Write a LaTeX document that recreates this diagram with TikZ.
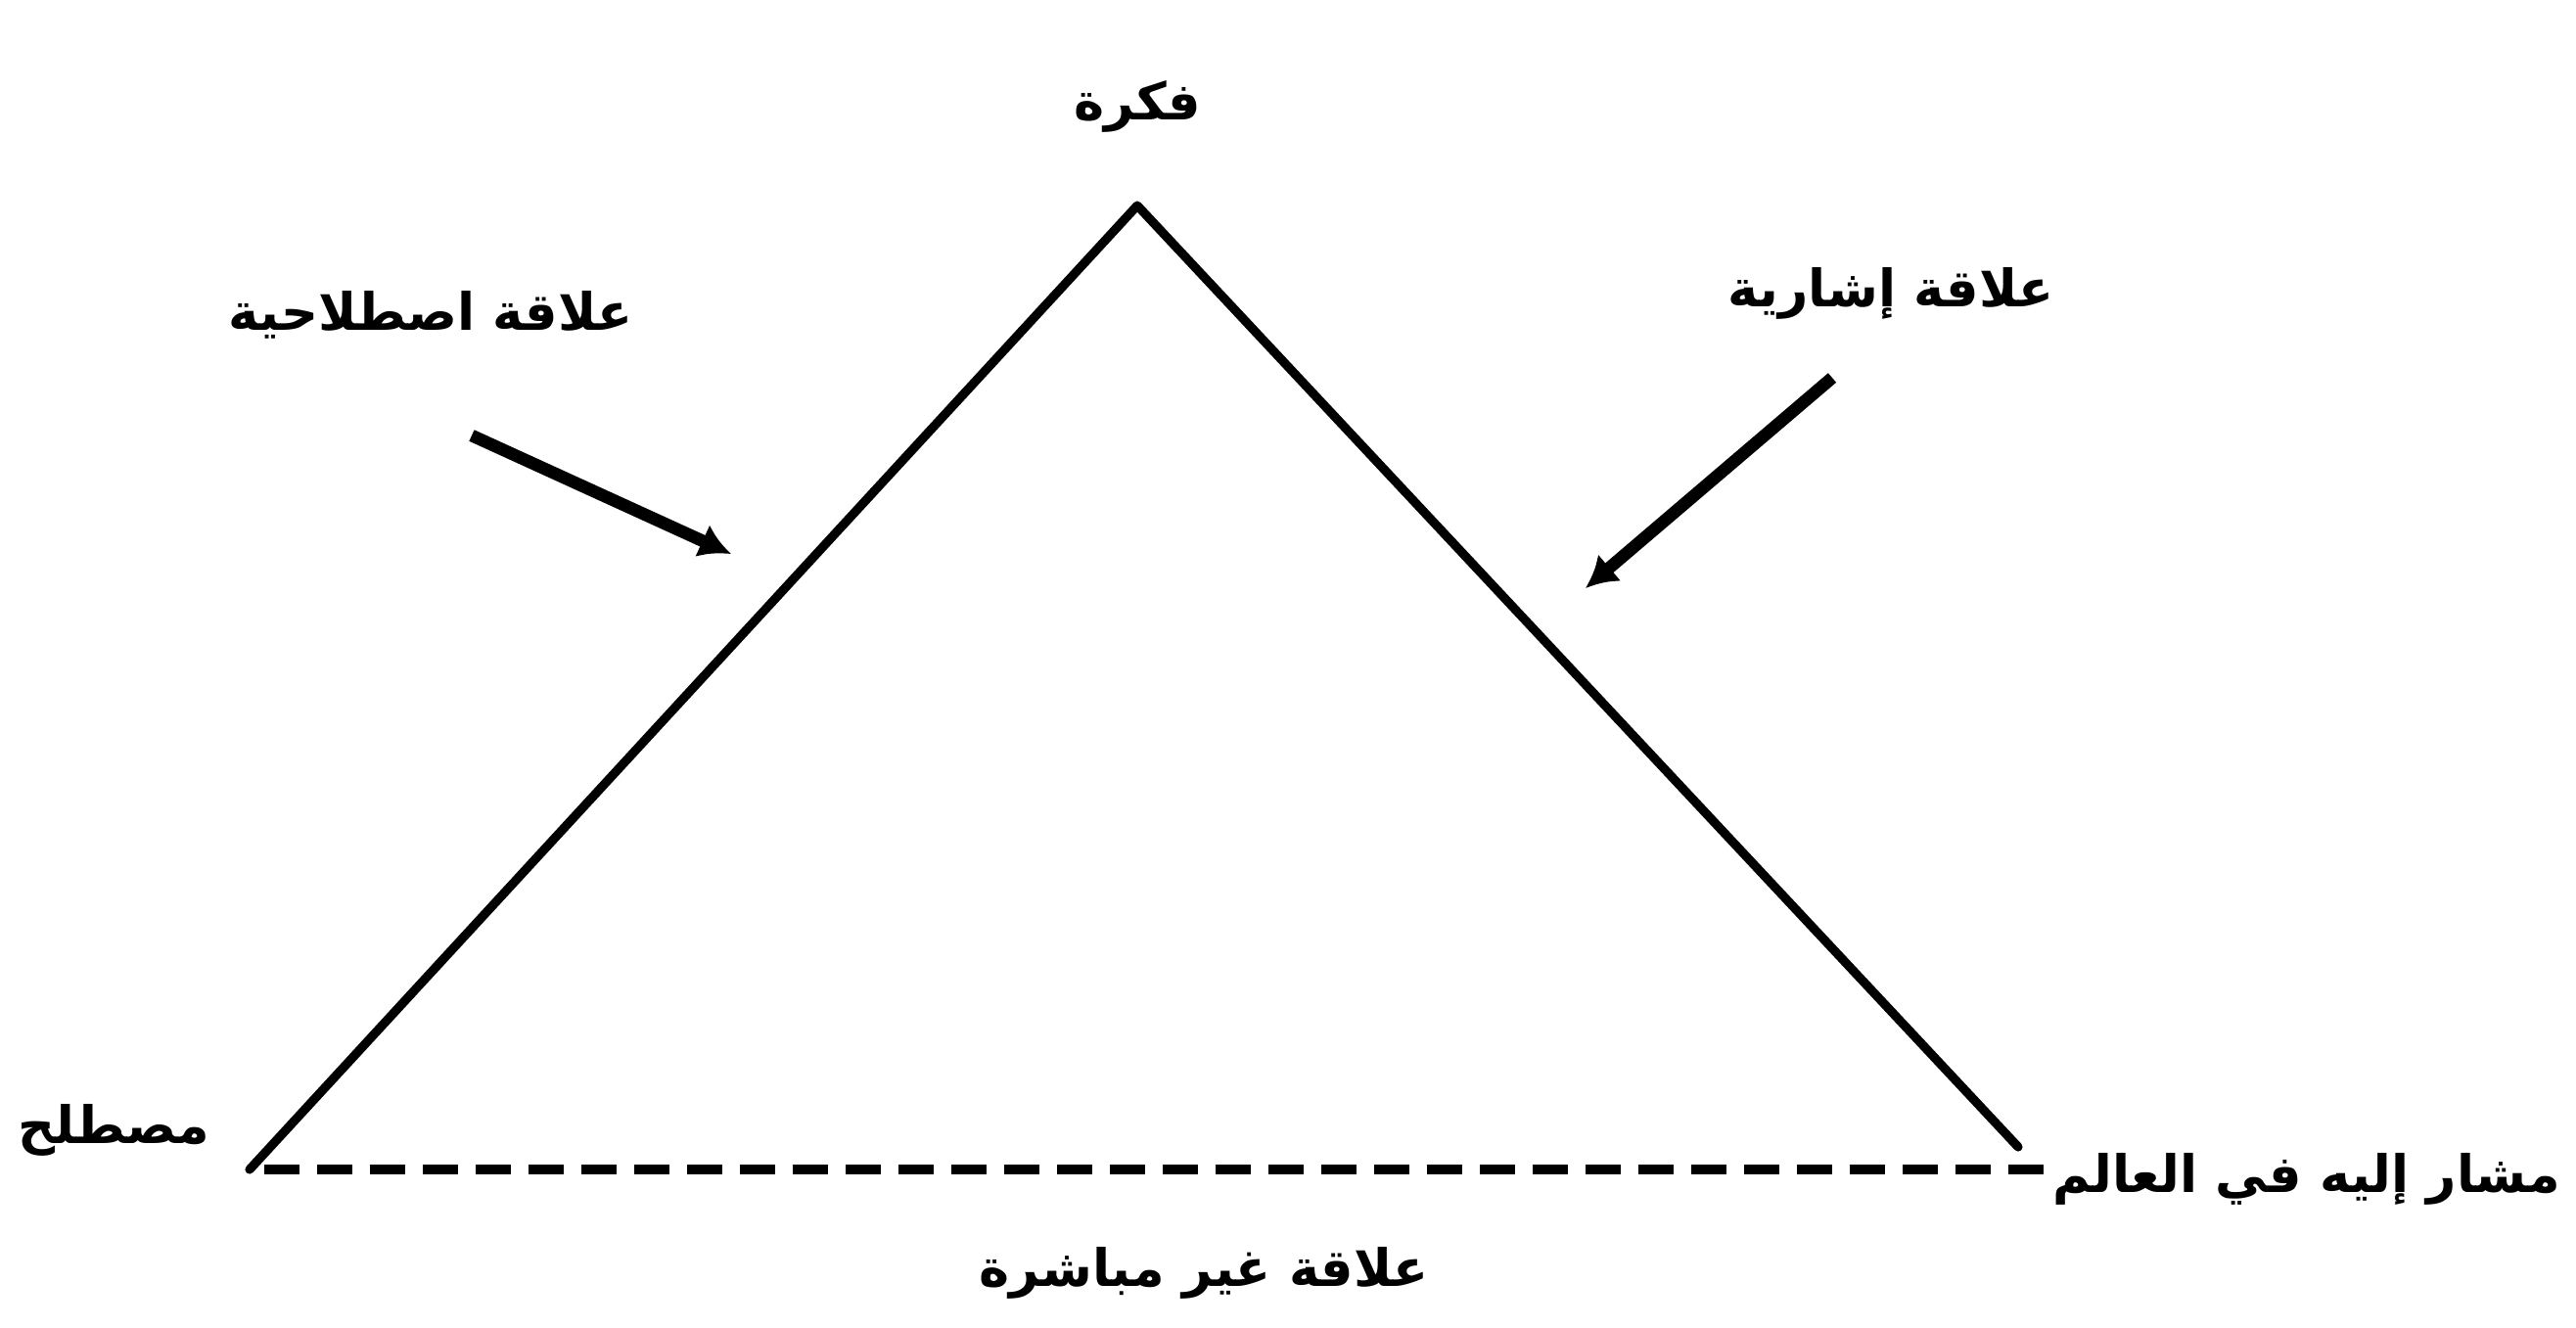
\documentclass[tikz,border=0pt]{standalone}
\usepackage{fontspec}
\usepackage{tikz}
\usetikzlibrary{arrows.meta,positioning}
\TeXXeTstate=1
\newfontfamily\arabicfont[Script=Arabic]{DejaVu Sans}
\definecolor{ink}{HTML}{000000}
\tikzset{
  lbl/.style={font=\arabicfont\bfseries\fontsize{15}{18}\selectfont,
              text=ink,inner sep=2pt},
  side/.style={draw=ink,line width=2.6pt,line cap=round,line join=round},
  base/.style={draw=ink,line width=2.8pt,dash pattern=on 0.36cm off 0.18cm},
  pointer/.style={-{Latex[length=3.2mm,width=3.6mm]},draw=ink,
                  line width=3.6pt}
}
\begin{document}
\begin{tikzpicture}[x=1cm,y=1cm]
    \path[use as bounding box,fill=white] (0,0) rectangle (26.32,-13.56);
    % corners of the triangle
    \coordinate (apex) at (11.62,-2.10);
    \coordinate (lcorner) at (2.55,-11.95);
    \coordinate (rcorner) at (20.62,-11.72);
    \coordinate (dashL) at (2.70,-11.95);
    \coordinate (dashR) at (20.98,-11.95);
    \draw[side] (lcorner) -- (apex) -- (rcorner);
    \draw[base] (dashL) -- (dashR);

    \node[lbl] (idea) at (11.62,-1.09) {\beginR فكرة\endR};
    \node[lbl,anchor=east] (term) at (2.22,-11.55) {\beginR مصطلح\endR};
    \node[lbl,anchor=east] (referent) at (26.24,-12.05) {\beginR مشار إليه في العالم\endR};
    \node[lbl] (indirect) at (12.30,-13.01) {\beginR علاقة غير مباشرة\endR};
    \node[lbl] (convrel) at (4.40,-3.22) {\beginR علاقة اصطلاحية\endR};
    \node[lbl] (refrel) at (19.32,-3.00) {\beginR علاقة إشارية\endR};

    % pointers toward the sides
    \coordinate (p1) at (4.82,-4.45);
    \coordinate (q1) at (7.47,-5.66);
    \coordinate (p2) at (18.72,-3.86);
    \coordinate (q2) at (16.20,-6.01);
    \draw[pointer] (p1) -- (q1);
    \draw[pointer] (p2) -- (q2);
\end{tikzpicture}
\end{document}
